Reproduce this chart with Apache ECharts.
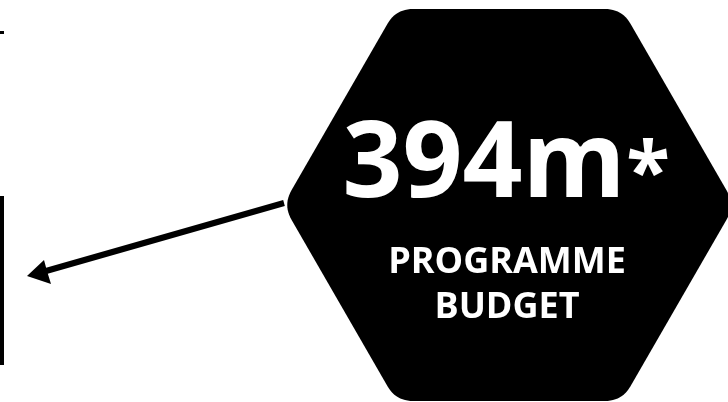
<!DOCTYPE html>
<html>
<head>
<meta charset="utf-8">
<script src="https://cdn.jsdelivr.net/npm/echarts@6/dist/echarts.min.js"></script>
<style>
html,body{margin:0;padding:0;background:#fff;}
#chart{width:728px;height:402px;}
</style>
</head>
<body>
<div id="chart"></div>
<script>
// Data
const budgetValues = [394];
const budgetUnits = ['m'];
const footnoteMarks = ['*'];
const labelLines = ['PROGRAMME', 'BUDGET'];

const chart = echarts.init(document.getElementById('chart'), null, {renderer: 'canvas'});

// hexagon geometry
const cx = 509, cy = 205, side = 226, halfH = 196, r = 17;
const verts = [
  [cx - side / 2, cy - halfH],
  [cx + side / 2, cy - halfH],
  [cx + side, cy],
  [cx + side / 2, cy + halfH],
  [cx - side / 2, cy + halfH],
  [cx - side, cy]
];
function roundedPoints(pts, rad) {
  const out = [];
  const n = pts.length;
  for (let i = 0; i < n; i++) {
    const p = pts[i], prev = pts[(i + n - 1) % n], next = pts[(i + 1) % n];
    const l1 = Math.hypot(prev[0] - p[0], prev[1] - p[1]);
    const l2 = Math.hypot(next[0] - p[0], next[1] - p[1]);
    const a = [p[0] + (prev[0] - p[0]) * rad / l1, p[1] + (prev[1] - p[1]) * rad / l1];
    const b = [p[0] + (next[0] - p[0]) * rad / l2, p[1] + (next[1] - p[1]) * rad / l2];
    const steps = 12;
    for (let k = 0; k <= steps; k++) {
      const t = k / steps, u = 1 - t;
      out.push([u * u * a[0] + 2 * u * t * p[0] + t * t * b[0],
                u * u * a[1] + 2 * u * t * p[1] + t * t * b[1]]);
    }
  }
  return out;
}

const font = '"Open Sans", "Noto Sans", sans-serif';

const graphic = [
  { type: 'rect', shape: {x: 0, y: 196, width: 4, height: 169}, style: {fill: '#000'} },
  { type: 'rect', shape: {x: 0, y: 31, width: 4, height: 3}, style: {fill: '#000'} },
  { type: 'polygon', shape: {points: roundedPoints(verts, r)}, style: {fill: '#000'} },
  { type: 'line', shape: {x1: 284, y1: 203, x2: 46, y2: 271}, style: {stroke: '#000', lineWidth: 6} },
  { type: 'polygon', shape: {points: [[27, 276], [44, 260], [47, 271], [51, 284]]}, style: {fill: '#000'} },
  { type: 'text', x: 484, y: 167, style: {
      text: budgetValues[0] + budgetUnits[0], fill: '#fff', font: 'bold 105px ' + font,
      align: 'center', verticalAlign: 'middle' } },
  { type: 'text', x: 648, y: 176, style: {
      text: footnoteMarks[0], fill: '#fff', font: 'bold 80px ' + font,
      align: 'center', verticalAlign: 'middle' } },
  { type: 'text', x: 507, y: 263, style: {
      text: labelLines[0], fill: '#fff', font: 'bold 36px ' + font,
      align: 'center', verticalAlign: 'middle' } },
  { type: 'text', x: 507, y: 308, style: {
      text: labelLines[1], fill: '#fff', font: 'bold 36px ' + font,
      align: 'center', verticalAlign: 'middle' } }
];

chart.setOption({
  backgroundColor: '#fff',
  animation: false,
  graphic: graphic
});
</script>
</body>
</html>
